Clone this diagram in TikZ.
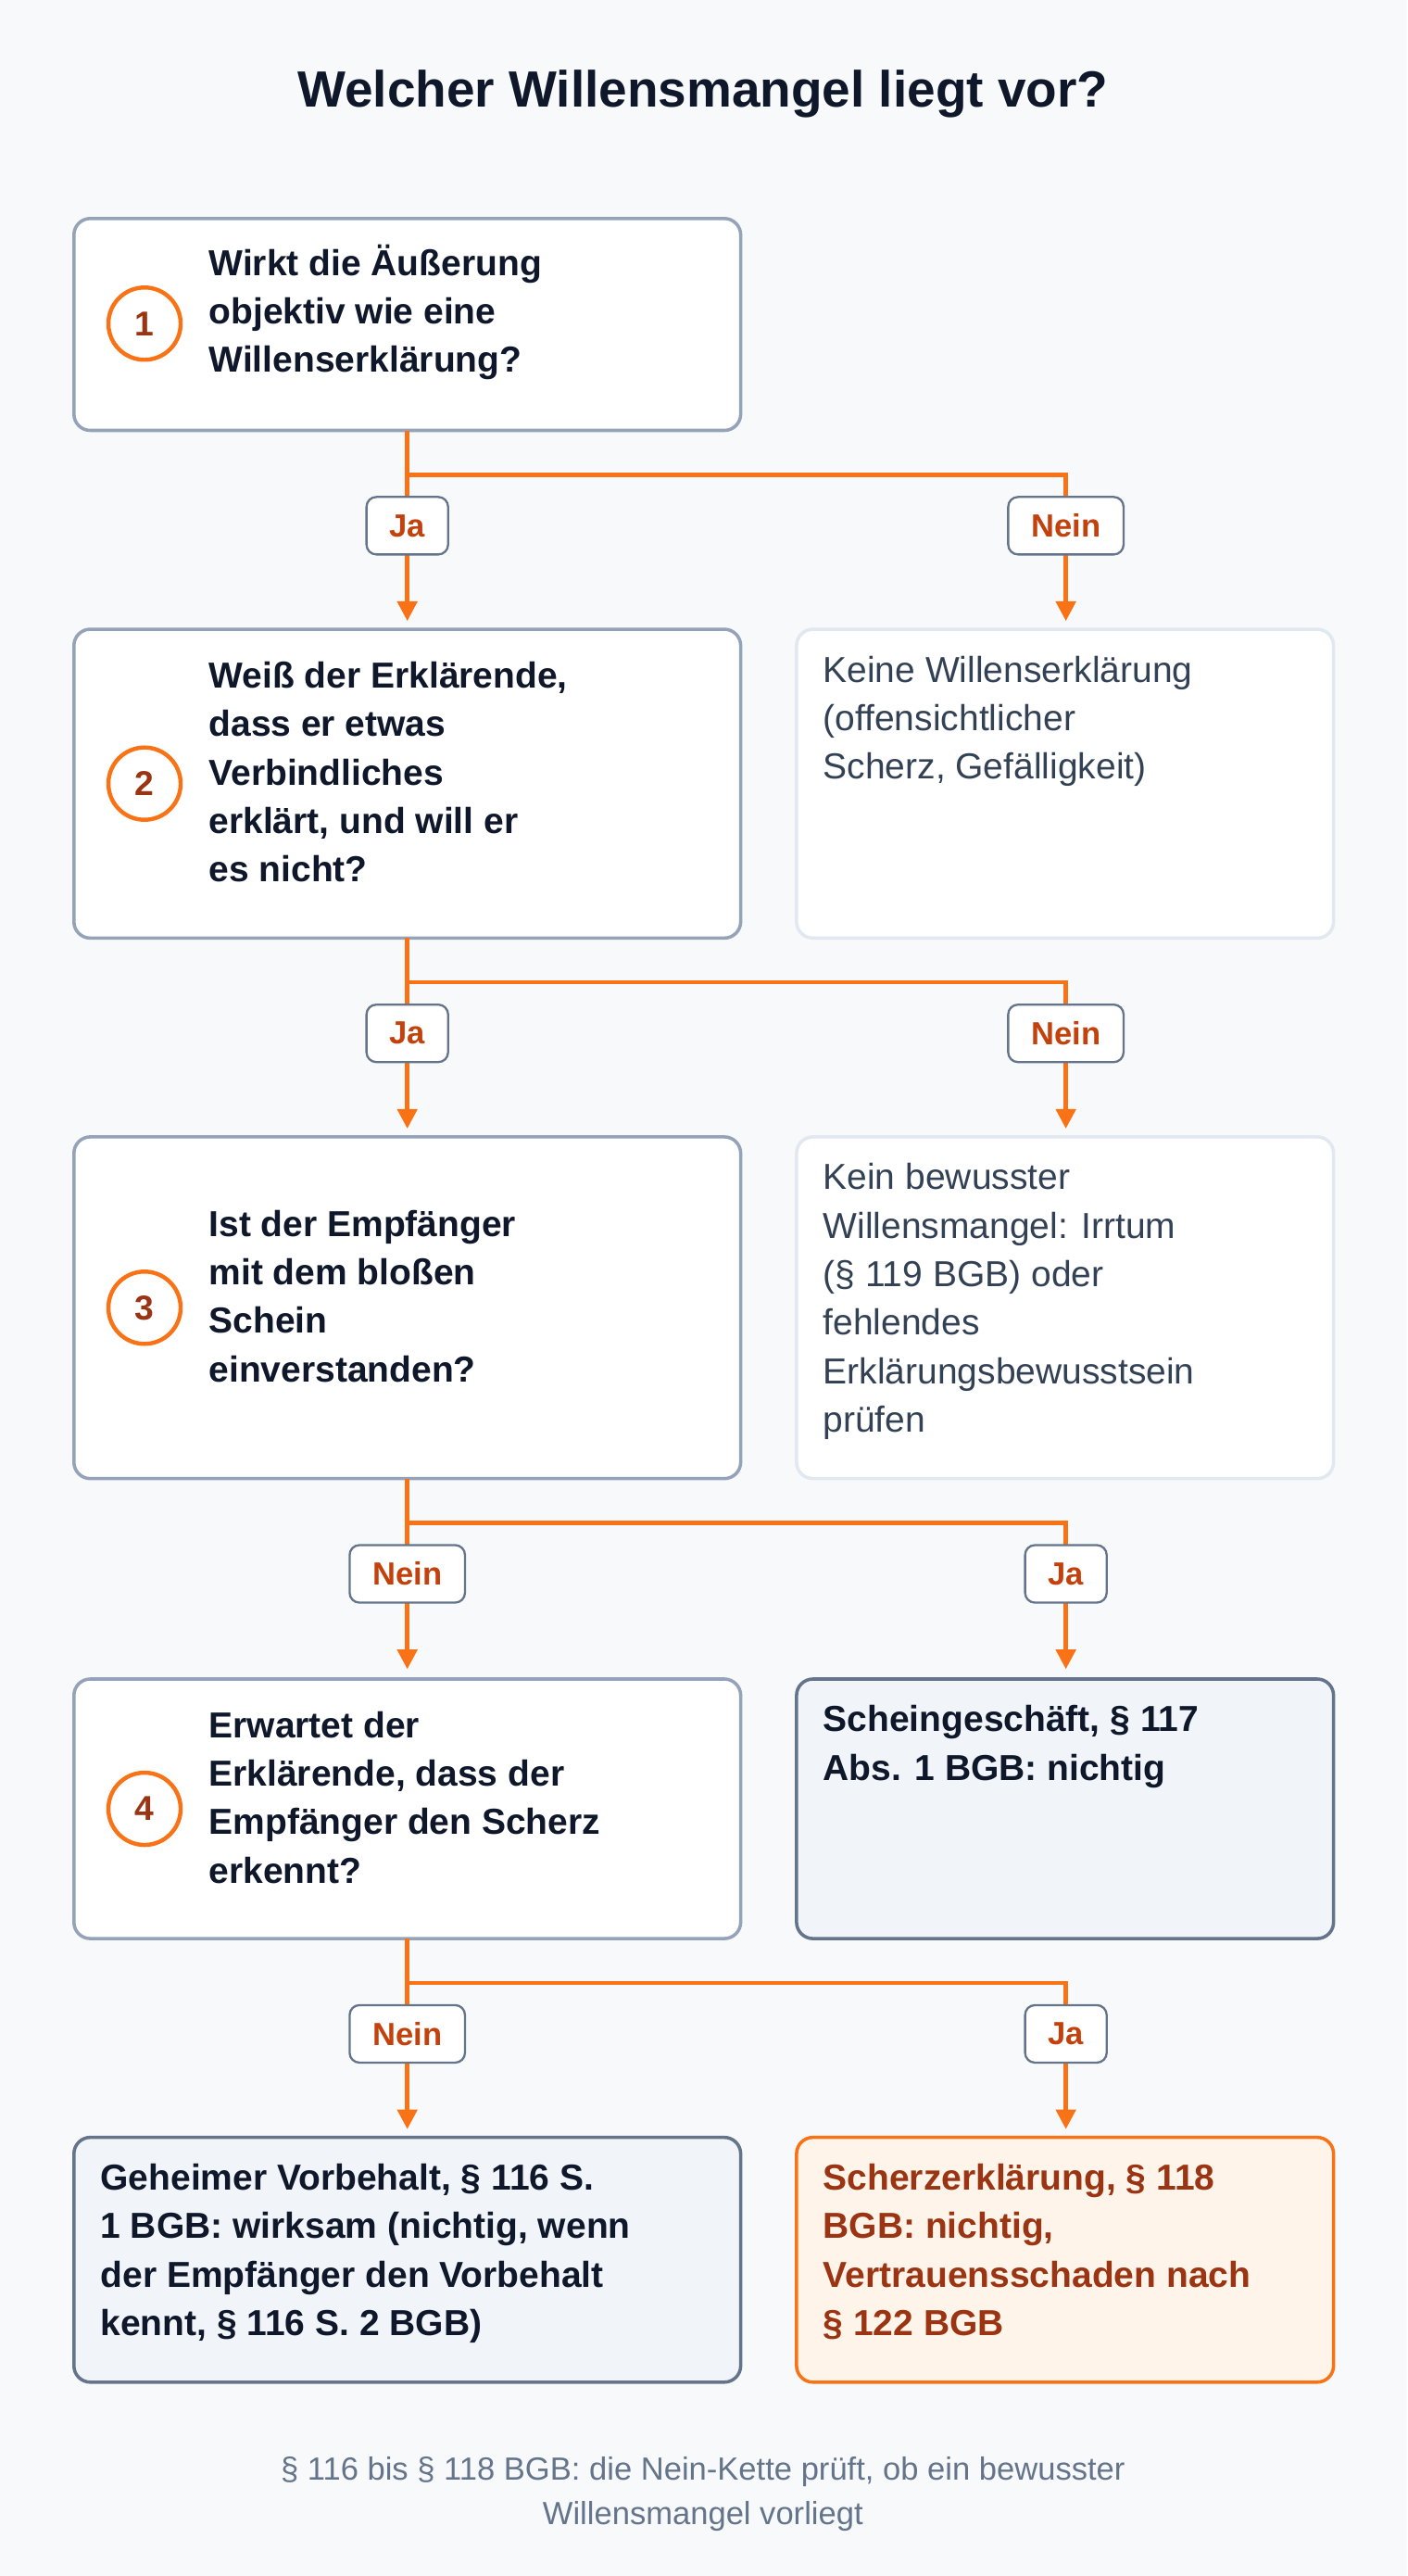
\documentclass[tikz,border=0pt]{standalone}
\usepackage{fontspec}
\setmainfont{Liberation Sans}
\usetikzlibrary{arrows.meta}
\definecolor{bg}{HTML}{F8F9FB}
\definecolor{qborder}{HTML}{94A3B8}
\definecolor{lborder}{HTML}{E2E8F0}
\definecolor{dborder}{HTML}{64748B}
\definecolor{dfill}{HTML}{F1F5F9}
\definecolor{orange}{HTML}{F97316}
\definecolor{dred}{HTML}{9A3412}
\definecolor{lred}{HTML}{C2410C}
\definecolor{ofill}{HTML}{FFF4EA}
\definecolor{ink}{HTML}{0F172A}
\definecolor{body}{HTML}{334155}
\definecolor{foot}{HTML}{64748B}
\tikzset{
  box/.style={draw=#1, line width=2pt, rounded corners=10pt, fill=white},
  qtext/.style={anchor=west, align=left, font=\fontsize{22}{29.5}\selectfont\bfseries, text=ink, inner sep=0},
  rtext/.style={anchor=north west, align=left, font=\fontsize{22}{29.5}\selectfont, text=body, inner sep=0},
  num/.style={circle, draw=orange, line width=2.5pt, minimum size=44pt, inner sep=0, font=\fontsize{21}{22}\selectfont\bfseries, text=dred, fill=white},
  lab/.style={draw=dborder, line width=1.3pt, rounded corners=6pt, fill=white, text=lred, font=\fontsize{19.5}{20}\selectfont\bfseries, minimum height=35pt, inner xsep=14pt},
  conn/.style={draw=orange, line width=2.5pt},
  arr/.style={conn, -{Triangle[length=12pt,width=12pt]}},
}
\begin{document}
\begin{tikzpicture}[x=1pt,y=-1pt]
\fill[bg] (0,0) rectangle (857,1568);
\useasboundingbox (0,0) rectangle (857,1568);
\node[font=\fontsize{31}{36}\selectfont\bfseries, text=ink] (title) at (428,57) {Welcher Willensmangel liegt vor?};

% boxes
\draw[box=qborder] (45,133) rectangle (451,262);
\draw[box=qborder] (45,383) rectangle (451,571);
\draw[box=lborder] (485,383) rectangle (812,571);
\draw[box=qborder] (45,692) rectangle (451,900);
\draw[box=lborder] (485,692) rectangle (812,900);
\draw[box=qborder] (45,1022) rectangle (451,1180);
\draw[box=dborder, fill=dfill] (485,1022) rectangle (812,1180);
\draw[box=dborder, fill=dfill] (45,1301) rectangle (451,1450);
\draw[box=orange, fill=ofill] (485,1301) rectangle (812,1450);

\node[num] (n1) at (88,197) {1};
\node[num] (n2) at (88,477) {2};
\node[num] (n3) at (88,796) {3};
\node[num] (n4) at (88,1101) {4};

\node[qtext] (q1) at (127,190) {Wirkt die Äußerung\\objektiv wie eine\\Willenserklärung?};
\node[qtext] (q2) at (127,470) {Weiß der Erklärende,\\dass er etwas\\Verbindliches\\erklärt, und will er\\es nicht?};
\node[qtext] (q3) at (127,789) {Ist der Empfänger\\mit dem bloßen\\Schein\\einverstanden?};
\node[qtext] (q4) at (127,1094) {Erwartet der\\Erklärende, dass der\\Empfänger den Scherz\\erkennt?};
\node[rtext] (r1) at (501,399) {Keine Willenserklärung\\(offensichtlicher\\Scherz, Gefälligkeit)};
\node[rtext] (r2) at (501,708) {Kein bewusster\\Willensmangel: Irrtum\\(§ 119 BGB) oder\\fehlendes\\Erklärungsbewusstsein\\prüfen};
\node[rtext, font=\fontsize{22}{29.5}\selectfont\bfseries, text=ink] (r3) at (501,1038) {Scheingeschäft, § 117\\Abs. 1 BGB: nichtig};
\node[rtext, font=\fontsize{22}{29.5}\selectfont\bfseries, text=ink] (r4) at (61,1317) {Geheimer Vorbehalt, § 116 S.\\1 BGB: wirksam (nichtig, wenn\\der Empfänger den Vorbehalt\\kennt, § 116 S. 2 BGB)};
\node[rtext, font=\fontsize{22}{29.5}\selectfont\bfseries, text=dred] (r5) at (501,1317) {Scherzerklärung, § 118\\BGB: nichtig,\\Vertrauensschaden nach\\§ 122 BGB};

% connectors
\foreach \t/\b/\m/\l/\ll/\rl in {262/378/289/320/Ja/Nein, 571/687/598/629/Ja/Nein, 900/1016/927/958/Nein/Ja, 1180/1296/1207/1238/Nein/Ja}{
  \coordinate (s) at (248,\t);
  \coordinate (e) at (248,\b);
  \coordinate (e2) at (649,\b);
  \draw[arr] (s) -- (e);
  \draw[arr] (248,\m) -- (649,\m) -- (e2);
  \node[lab] at (248,\l) {\ll};
  \node[lab] at (649,\l) {\rl};
}

\node[align=center, font=\fontsize{19.5}{27}\selectfont, text=foot] (foot) at (428,1518) {§ 116 bis § 118 BGB: die Nein-Kette prüft, ob ein bewusster\\Willensmangel vorliegt};
\end{tikzpicture}
\end{document}
